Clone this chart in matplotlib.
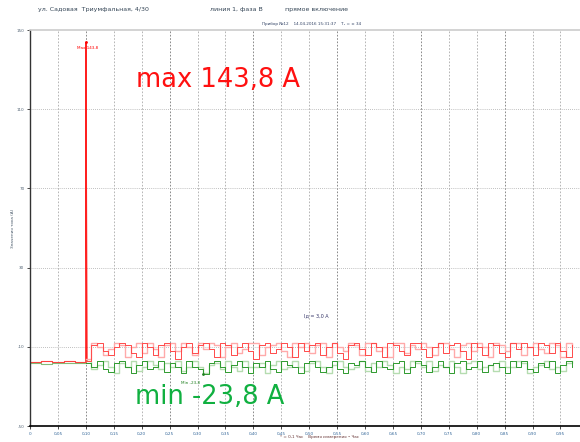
import matplotlib.pyplot as plt
import numpy as np

# Осциллограмма тока, линия 1, фаза B
y_ticks = [-50, -10, 30, 70, 110, 150]
x_ticks = [0, 0.05, 0.10, 0.15, 0.20, 0.25, 0.30, 0.35, 0.40, 0.45,
           0.50, 0.55, 0.60, 0.65, 0.70, 0.75, 0.80, 0.85, 0.90, 0.95]
x_labels = ["0", "0,05", "0,10", "0,15", "0,20", "0,25", "0,30", "0,35", "0,40", "0,45",
            "0,50", "0,55", "0,60", "0,65", "0,70", "0,75", "0,80", "0,85", "0,90", "0,95"]

# до включения (0 ... 0,10)
pre_t = [0.0, 0.02, 0.04, 0.06, 0.08, 0.10]
pre_red = [-17.8, -17.2, -17.6, -17.3, -17.7, -17.4]
pre_green = [-18.3, -18.5, -18.2, -18.4, -18.3, -18.3]

peak_t = 0.10
peak_max = 143.8
min_t = 0.31
min_val = -23.8
mean_val = 3.0

# после включения, шаг 0,01
red = [-17, -9, -8, -12, -14, -10, -8, -9, -13, -15, -8, -10, -14, -9, -8, -12, -16, -10, -8, -13,
       -9, -8, -11, -15, -8, -9, -14, -10, -8, -12, -16, -9, -8, -13, -11, -8, -10, -15, -8, -12,
       -9, -8, -14, -10, -8, -13, -16, -9, -8, -11, -14, -8, -10, -15, -8, -9, -12, -14, -8, -8,
       -11, -15, -10, -8, -13, -9, -8, -12, -16, -8, -10, -14, -8, -9, -13, -15, -8, -11, -8, -10,
       -14, -8, -9, -13, -8, -12, -15, -9]
pink = [-16, -8, -10, -14, -11, -8, -9, -15, -10, -8, -13, -8, -11, -15, -9, -8, -12, -8, -10, -14,
        -8, -11, -8, -9, -15, -10, -8, -13, -11, -8, -8, -14, -10, -9, -8, -12, -15, -8, -10, -8,
        -13, -9, -8, -15, -8, -10, -12, -8, -9, -14, -8, -8, -12, -10, -15, -8, -8, -13, -9, -11,
        -8, -10, -14, -8, -8, -11, -15, -9, -8, -12, -8, -10, -15, -8, -9, -12, -8, -8, -14, -10,
        -8, -11, -13, -8, -9, -15, -8, -10]
green = [-18, -20, -17, -21, -22.5, -18, -17, -20, -23, -19, -17, -21, -20, -17, -22.5, -18, -20, -23, -17, -20,
         -21, -23.8, -18, -17, -20, -22.5, -19, -17, -20, -23, -18, -20, -17, -21, -22.5, -17, -19, -20, -23, -18,
         -17, -20, -22.5, -20, -17, -21, -23, -18, -19, -17, -20, -22.5, -17, -20, -21, -18, -17, -23, -20, -17,
         -19, -22.5, -20, -17, -20, -23, -18, -17, -21, -20, -17, -22.5, -19, -18, -20, -23, -17, -20, -17, -21,
         -22.5, -18, -20, -17, -23, -19, -17, -20]
lgreen = [-17, -21, -19, -17, -20, -23, -18, -20, -17, -22, -20, -17, -19, -21, -18, -20, -17, -22, -20, -17,
          -20, -23, -19, -18, -21, -17, -20, -22, -17, -20, -20, -18, -23, -19, -17, -21, -20, -17, -20, -22,
          -18, -17, -20, -23, -19, -17, -20, -21, -20, -17, -22, -18, -20, -17, -19, -23, -20, -21, -17, -18,
          -20, -17, -22, -19, -20, -17, -20, -23, -18, -17, -21, -20, -19, -22, -17, -20, -20, -17, -18, -23,
          -20, -19, -17, -21, -20, -22, -18, -17]

fig = plt.figure(figsize=(5.8, 4.42), dpi=100)
ax = fig.add_axes([30 / 580, 16 / 442, 1 - 30 / 580, 396 / 442])

t = peak_t + 0.01 * np.arange(len(red))
tg = peak_t + 0.01 * np.arange(len(green))

ax.plot(pre_t, pre_red, color='#ff4040', lw=0.8, drawstyle='steps-post')
ax.plot(pre_t, pre_green, color='#66aa55', lw=0.8, drawstyle='steps-post', alpha=0.8)
ax.plot([peak_t, peak_t, peak_t + 0.002], [pre_red[-1], peak_max, red[0]], color='#ff2020', lw=1.0)
ax.plot(t, pink, color='#ffaaaa', lw=1.0, drawstyle='steps-post')
ax.plot(tg, lgreen, color='#b5dcb0', lw=1.0, drawstyle='steps-post')
ax.plot(t, red, color='#ff4a4a', lw=0.7, drawstyle='steps-post')
ax.plot(tg, green, color='#2e9a2e', lw=0.7, drawstyle='steps-post')

ax.plot([peak_t], [peak_max], marker='.', color='red', ms=2)
ax.text(peak_t - 0.015, peak_max - 2, "Max 143,8", color='red', fontsize=3, va='top')
ax.plot([min_t], [min_val], marker='.', color='#208020', ms=2)
ax.text(min_t - 0.04, min_val - 5.5, "Min -23,8", color='#208020', fontsize=3, va='bottom')
ax.text(0.49, 5, "Iд = 3,0 A", color='#333366', fontsize=3.5)

ax.text(0.19, 124.5, "max 143,8 A", color='#ff1010', fontsize=18.5, va='center')
ax.text(0.188, -35.5, "min -23,8 A", color='#10b040', fontsize=18.5, va='center')

ax.set_xlim(0, 0.985)
ax.set_ylim(-50, 150)
ax.set_xticks(x_ticks)
ax.set_xticklabels(x_labels, fontsize=3, color='#336699')
ax.set_yticks(y_ticks)
ax.set_yticklabels([str(v) for v in y_ticks], fontsize=3, color='#556677')
ax.tick_params(length=2, width=0.5, pad=2)

for i, x in enumerate(x_ticks[1:]):
    shade = '#777777' if i % 3 == 1 else '#aaaaaa'
    ax.axvline(x, color=shade, lw=0.6, ls=(0, (2, 2)), zorder=0)
for y in y_ticks[1:-1]:
    ax.axhline(y, color='#aaaaaa', lw=0.6, ls=(0, (1, 1.5)), zorder=0)

ax.spines['left'].set_linewidth(1.0)
ax.spines['left'].set_color('#333333')
ax.spines['bottom'].set_linewidth(1.2)
ax.spines['top'].set_color('#cccccc')
ax.spines['top'].set_linewidth(1.2)
ax.spines['right'].set_visible(False)

ax.set_ylabel("Значения тока (A)", fontsize=3, color='#445566', labelpad=1)

fig.text(38 / 580, 1 - 10 / 442, "ул. Садовая  Триумфальная, 4/30", fontsize=4.5, color='#334455', va='center')
fig.text(210 / 580, 1 - 10 / 442, "линия 1, фаза B", fontsize=4.5, color='#334455', va='center')
fig.text(285 / 580, 1 - 10 / 442, "прямое включение", fontsize=4.5, color='#334455', va='center')
fig.text(262 / 580, 1 - 24 / 442, "Прибор №12    14.04.2016 15:31:37    T₁ = ± 34", fontsize=3,
         color='#334466', va='center')
fig.text(280 / 580, 1 - 437 / 442, "* = 0,1 Час    Время измерения • Час", fontsize=3,
         color='#663333', va='center')

fig.savefig("out.png", dpi=100)
